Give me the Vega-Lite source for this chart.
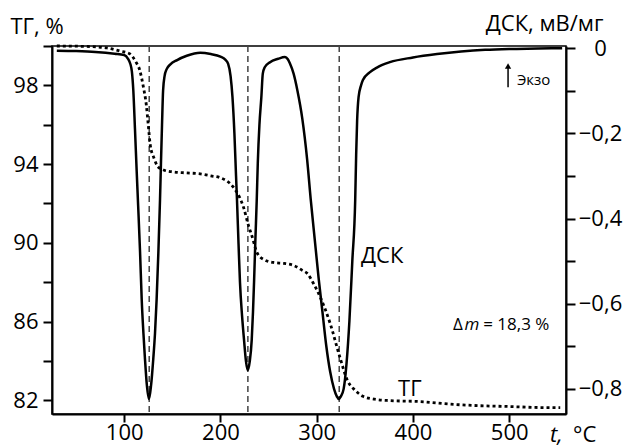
{
  "$schema": "https://vega.github.io/schema/vega-lite/v6.json",
  "width": 514,
  "height": 368,
  "autosize": {"type": "none"},
  "padding": {"left": 52, "top": 46, "right": 60, "bottom": 33},
  "background": "white",
  "config": {
    "view": {"stroke": "black", "strokeWidth": 1.5},
    "font": "Open Sans",
    "text": {"font": "Open Sans", "color": "black"},
    "axis": {
      "grid": false,
      "domainColor": "black",
      "domainWidth": 2,
      "tickColor": "black",
      "tickWidth": 2,
      "labelColor": "black",
      "labelFont": "Open Sans",
      "labelFontSize": 22,
      "labelOverlap": false,
      "labelFlush": false,
      "titleFont": "Open Sans",
      "titleFontSize": 22,
      "titleFontWeight": "normal",
      "titleColor": "black"
    }
  },
  "datasets": {
    "tg": [
      {"t": 30, "tg": 100.0}, {"t": 60, "tg": 99.98}, {"t": 82, "tg": 99.9}, {"t": 95, "tg": 99.75},
      {"t": 106, "tg": 99.6}, {"t": 112, "tg": 99.2}, {"t": 116, "tg": 98.8}, {"t": 120, "tg": 97.9},
      {"t": 123, "tg": 97.0}, {"t": 125, "tg": 96.0}, {"t": 127, "tg": 95.0}, {"t": 131, "tg": 94.3},
      {"t": 135, "tg": 93.87}, {"t": 141, "tg": 93.7}, {"t": 151, "tg": 93.6}, {"t": 165, "tg": 93.55},
      {"t": 179, "tg": 93.5}, {"t": 190, "tg": 93.4}, {"t": 200, "tg": 93.3}, {"t": 213, "tg": 92.85},
      {"t": 220, "tg": 92.3}, {"t": 224, "tg": 91.8}, {"t": 229, "tg": 90.9}, {"t": 233, "tg": 90.3},
      {"t": 238, "tg": 89.5}, {"t": 245, "tg": 89.15}, {"t": 255, "tg": 89.0}, {"t": 266, "tg": 88.95},
      {"t": 276, "tg": 88.85}, {"t": 285, "tg": 88.6}, {"t": 290, "tg": 88.45}, {"t": 297, "tg": 87.9},
      {"t": 304, "tg": 87.2}, {"t": 314, "tg": 85.9}, {"t": 324, "tg": 84.2}, {"t": 332, "tg": 83.0},
      {"t": 340, "tg": 82.5}, {"t": 348, "tg": 82.2}, {"t": 360, "tg": 82.05}, {"t": 376, "tg": 81.98},
      {"t": 408, "tg": 81.93}, {"t": 439, "tg": 81.8}, {"t": 470, "tg": 81.72}, {"t": 500, "tg": 81.68},
      {"t": 530, "tg": 81.63}, {"t": 553, "tg": 81.62}
    ],
    "dsc": [
      {"t": 30, "dsc": -0.006}, {"t": 50, "dsc": -0.007}, {"t": 70, "dsc": -0.009}, {"t": 90, "dsc": -0.013},
      {"t": 100, "dsc": -0.016}, {"t": 104, "dsc": -0.025}, {"t": 106.5, "dsc": -0.038}, {"t": 108, "dsc": -0.055},
      {"t": 109.5, "dsc": -0.1}, {"t": 111.2, "dsc": -0.19}, {"t": 113, "dsc": -0.29}, {"t": 114.5, "dsc": -0.37},
      {"t": 116.5, "dsc": -0.48}, {"t": 118.2, "dsc": -0.59}, {"t": 120, "dsc": -0.67}, {"t": 121.6, "dsc": -0.73},
      {"t": 123.5, "dsc": -0.79}, {"t": 125.8, "dsc": -0.824}, {"t": 128, "dsc": -0.79}, {"t": 130.2, "dsc": -0.73},
      {"t": 132, "dsc": -0.67}, {"t": 133.7, "dsc": -0.59}, {"t": 135.5, "dsc": -0.48}, {"t": 137.2, "dsc": -0.357},
      {"t": 138.2, "dsc": -0.27}, {"t": 139.3, "dsc": -0.18}, {"t": 140.4, "dsc": -0.1}, {"t": 142, "dsc": -0.065},
      {"t": 144, "dsc": -0.05}, {"t": 148, "dsc": -0.038}, {"t": 155, "dsc": -0.028}, {"t": 165, "dsc": -0.018},
      {"t": 179, "dsc": -0.011}, {"t": 190, "dsc": -0.014}, {"t": 200, "dsc": -0.02}, {"t": 205, "dsc": -0.027},
      {"t": 208, "dsc": -0.037}, {"t": 210.5, "dsc": -0.065}, {"t": 212.5, "dsc": -0.115}, {"t": 214.5, "dsc": -0.2},
      {"t": 216.2, "dsc": -0.3}, {"t": 217.2, "dsc": -0.357}, {"t": 218.8, "dsc": -0.46}, {"t": 220.3, "dsc": -0.55},
      {"t": 222.5, "dsc": -0.63}, {"t": 224.5, "dsc": -0.685}, {"t": 226.5, "dsc": -0.735}, {"t": 228.3, "dsc": -0.756},
      {"t": 230.5, "dsc": -0.735}, {"t": 232.5, "dsc": -0.685}, {"t": 233.8, "dsc": -0.62}, {"t": 234.9, "dsc": -0.55},
      {"t": 236.3, "dsc": -0.45}, {"t": 237.7, "dsc": -0.357}, {"t": 238.8, "dsc": -0.27}, {"t": 240.5, "dsc": -0.18},
      {"t": 242.5, "dsc": -0.115}, {"t": 244, "dsc": -0.06}, {"t": 246, "dsc": -0.045}, {"t": 251.5, "dsc": -0.033},
      {"t": 260, "dsc": -0.025}, {"t": 267, "dsc": -0.021}, {"t": 270, "dsc": -0.026}, {"t": 272, "dsc": -0.035},
      {"t": 276, "dsc": -0.06}, {"t": 280, "dsc": -0.1}, {"t": 285, "dsc": -0.165}, {"t": 290, "dsc": -0.26},
      {"t": 294, "dsc": -0.36}, {"t": 298, "dsc": -0.45}, {"t": 302, "dsc": -0.54}, {"t": 306, "dsc": -0.62},
      {"t": 310, "dsc": -0.7}, {"t": 314, "dsc": -0.76}, {"t": 318, "dsc": -0.8}, {"t": 321, "dsc": -0.818},
      {"t": 323, "dsc": -0.824}, {"t": 325, "dsc": -0.818}, {"t": 328, "dsc": -0.8}, {"t": 331, "dsc": -0.74},
      {"t": 334, "dsc": -0.64}, {"t": 337, "dsc": -0.5}, {"t": 340, "dsc": -0.357}, {"t": 341, "dsc": -0.25},
      {"t": 342, "dsc": -0.17}, {"t": 343.5, "dsc": -0.115}, {"t": 346, "dsc": -0.088}, {"t": 348, "dsc": -0.075},
      {"t": 355, "dsc": -0.057}, {"t": 363, "dsc": -0.045}, {"t": 376, "dsc": -0.033}, {"t": 400, "dsc": -0.022},
      {"t": 425, "dsc": -0.014}, {"t": 450, "dsc": -0.008}, {"t": 475, "dsc": -0.004}, {"t": 500, "dsc": -0.002},
      {"t": 530, "dsc": -0.001}, {"t": 555, "dsc": 0.0}
    ],
    "peaks": [{"t": 126}, {"t": 228.5}, {"t": 323.4}],
    "bigText": [
      {"t": 346, "tg": 88.97, "text": "ДСК"},
      {"t": 384.5, "tg": 82.23, "text": "ТГ"},
      {"t": 566.3, "tg": 79.9, "text": "°C"}
    ],
    "bigItalic": [{"t": 542.4, "tg": 79.9, "text": "t,"}],
    "midText": [
      {"t": 441.6, "tg": 85.55, "text": "Δ"},
      {"t": 473, "tg": 85.55, "text": "= 18,3 %"}
    ],
    "midItalic": [{"t": 453.5, "tg": 85.55, "text": "m"}],
    "arrow": [{"t": 498.8, "dsc": -0.045, "dsc2": -0.092}],
    "arrowHead": [{"t": 498.8, "dsc": -0.042}],
    "exo": [{"t": 508, "dsc": -0.087, "text": "Экзо"}]
  },
  "encoding": {
    "x": {
      "field": "t",
      "type": "quantitative",
      "scale": {"domain": [25, 559], "nice": false, "zero": false},
      "axis": {"values": [100, 200, 300, 400, 500], "tickSize": 8, "labelPadding": 0, "title": null}
    }
  },
  "layer": [
    {
      "data": {"name": "peaks"},
      "mark": {"type": "rule", "color": "#444444", "strokeWidth": 1.5, "strokeDash": [6, 4]},
      "encoding": {}
    },
    {
      "encoding": {
        "y": {
          "field": "tg",
          "type": "quantitative",
          "scale": {"domain": [81.3, 100], "nice": false, "zero": false},
          "axis": {
            "orient": "left",
            "values": [82, 84, 86, 88, 90, 92, 94, 96, 98, 100],
            "labelExpr": "(datum.value - 82) % 4 == 0 ? datum.label : ''",
            "tickSize": 9,
            "labelPadding": 5,
            "title": "ТГ, %",
            "titleAngle": 0,
            "titleAlign": "left",
            "titleBaseline": "alphabetic",
            "titleX": -42,
            "titleY": -13
          }
        }
      },
      "layer": [
        {
          "data": {"name": "tg"},
          "mark": {"type": "line", "color": "black", "strokeWidth": 2.8, "strokeDash": [3, 3], "interpolate": "monotone"}
        },
        {
          "data": {"name": "bigText"},
          "mark": {"type": "text", "align": "left", "baseline": "alphabetic", "fontSize": 22},
          "encoding": {"text": {"field": "text"}}
        },
        {
          "data": {"name": "bigItalic"},
          "mark": {"type": "text", "align": "left", "baseline": "alphabetic", "fontSize": 22, "fontStyle": "italic"},
          "encoding": {"text": {"field": "text"}}
        },
        {
          "data": {"name": "midText"},
          "mark": {"type": "text", "align": "left", "baseline": "alphabetic", "fontSize": 17},
          "encoding": {"text": {"field": "text"}}
        },
        {
          "data": {"name": "midItalic"},
          "mark": {"type": "text", "align": "left", "baseline": "alphabetic", "fontSize": 17, "fontStyle": "italic"},
          "encoding": {"text": {"field": "text"}}
        }
      ]
    },
    {
      "encoding": {
        "y": {
          "field": "dsc",
          "type": "quantitative",
          "scale": {"domain": [-0.859, 0.005], "nice": false, "zero": false},
          "axis": {
            "orient": "right",
            "values": [0, -0.1, -0.2, -0.3, -0.4, -0.5, -0.6, -0.7, -0.8],
            "labelExpr": "abs(round(datum.value * 10)) % 2 == 1 ? '' : (datum.value == 0 ? '0' : replace(format(datum.value, '.1f'), '.', ','))",
            "tickSize": 9,
            "labelAlign": "center",
            "labelPadding": 25,
            "title": "ДСК, мВ/мг",
            "titleAngle": 0,
            "titleAlign": "right",
            "titleBaseline": "alphabetic",
            "titleX": 37,
            "titleY": -16
          }
        }
      },
      "layer": [
        {
          "data": {"name": "dsc"},
          "mark": {"type": "line", "color": "black", "strokeWidth": 2.5, "interpolate": "monotone"}
        },
        {
          "data": {"name": "arrow"},
          "mark": {"type": "rule", "color": "black", "strokeWidth": 1.5},
          "encoding": {"y2": {"field": "dsc2"}}
        },
        {
          "data": {"name": "arrowHead"},
          "mark": {"type": "point", "shape": "triangle-up", "filled": true, "color": "black", "size": 40, "opacity": 1}
        },
        {
          "data": {"name": "exo"},
          "mark": {"type": "text", "align": "left", "baseline": "alphabetic", "fontSize": 15},
          "encoding": {"text": {"field": "text"}}
        }
      ]
    }
  ],
  "resolve": {"scale": {"y": "independent"}}
}
